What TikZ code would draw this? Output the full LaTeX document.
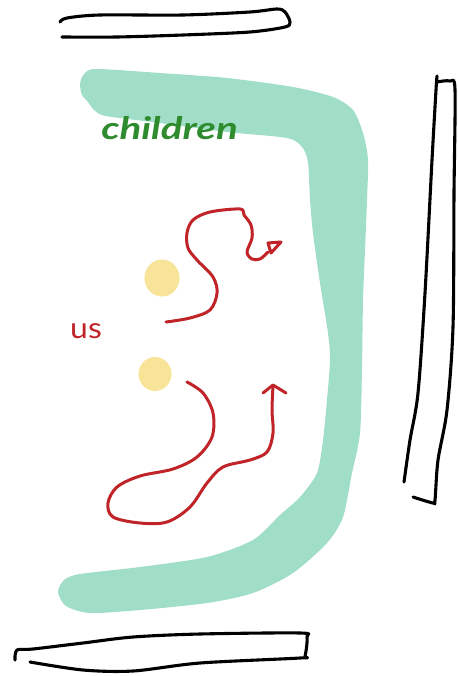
\documentclass[tikz,border=0pt]{standalone}
\usepackage{fontspec}
\setmainfont{Lato}
\definecolor{band}{RGB}{160,222,200}
\definecolor{dot}{RGB}{248,228,152}
\definecolor{pathred}{RGB}{192,36,40}
\definecolor{kidgreen}{RGB}{46,140,46}
\tikzset{
  bar/.style={draw=black, line width=3.1pt, line cap=round, line join=round},
  redpath/.style={draw=pathred, line width=3pt, line cap=round, line join=round},
  person/.style={fill=dot, draw=none, ellipse},
}
\usetikzlibrary{shapes.geometric}
\begin{document}
\begin{tikzpicture}[x=1pt,y=-1pt]
\useasboundingbox[fill=white] (0,0) rectangle (457,676);
% green band
\fill[band] plot[smooth cycle, tension=0.45] coordinates {
 (80,84) (84,74) (96,69) (160,73) (227,78) (293,87) (333,97) (353,110) (363,133) (368,160) (367,200)
 (365,250) (363,300) (362,367) (360,433) (352,473) (343,517) (327,543) (293,573) (253,593)
 (207,603) (140,610) (90,613) (66,606) (58,592) (64,580) (80,574) (140,567) (207,557)
 (253,540) (280,515) (300,497) (317,473) (323,440) (327,400) (330,360) (328,333) (320,283)
 (313,233) (310,200) (308,162) (302,147) (287,138) (227,132) (160,123) (106,116) (94,110) (88,102) (82,95)};
% top bar
\draw[bar] plot[smooth, tension=0.5] coordinates {(60,22) (67,18) (100,15) (183,15) (250,12) (277,9) (285,12) (290,22) (285,27) (250,32) (183,35) (117,37) (62,37)};
% right bar
\draw[bar] plot[smooth, tension=0.5] coordinates {(437,76) (436,90) (432,160) (425,293) (418,393) (410,440) (404,482)};
\draw[bar] plot[smooth, tension=0.5] coordinates {(437,82) (450,81) (455,90) (454,193) (453,327) (447,410) (438,460) (435,500) (433,503) (413,497)};
% bottom bar
\draw[bar] plot[smooth, tension=0.5] coordinates {(15,660) (17,650) (33,649) (83,643) (133,637) (200,634) (300,633) (307,637) (305,656) (300,658) (200,663) (133,671) (83,670) (30,662)};
% people
\node[person, minimum width=35pt, minimum height=37pt, inner sep=0pt] (p1) at (162,278) {};
\node[person, minimum width=33pt, minimum height=34pt, inner sep=0pt] (p2) at (155,374) {};
% red paths
\draw[redpath] plot[smooth, tension=0.55] coordinates {(166,322) (190,318) (210,310) (217,293) (213,277) (197,260) (188,248) (187,233) (193,220) (210,212) (240,209) (244,215) (251,225) (252,238) (247,252) (252,259) (260,259) (268,252)};
\draw[redpath] (268,243) -- (281,242) -- (271,253) -- cycle;
\draw[redpath] plot[smooth, tension=0.55] coordinates {(187,382) (203,393) (213,413) (212,437) (197,457) (173,469) (140,476) (117,487) (108,503) (113,517) (140,523) (167,522) (190,507) (207,483) (223,467) (250,460) (267,452) (273,433) (272,410) (273,386)};
\draw[redpath] (263,393) -- (273,385) -- (286,393);
% labels
\node[text=kidgreen, font=\fontsize{31}{31}\selectfont\bfseries\itshape, xscale=1.3, inner sep=0pt, anchor=base west] (kids) at (101,140) {children};
\node[text=pathred, font=\fontsize{29}{29}\selectfont, xscale=1.1, inner sep=0pt, anchor=base west] (us) at (70,338) {us};
\end{tikzpicture}
\end{document}
